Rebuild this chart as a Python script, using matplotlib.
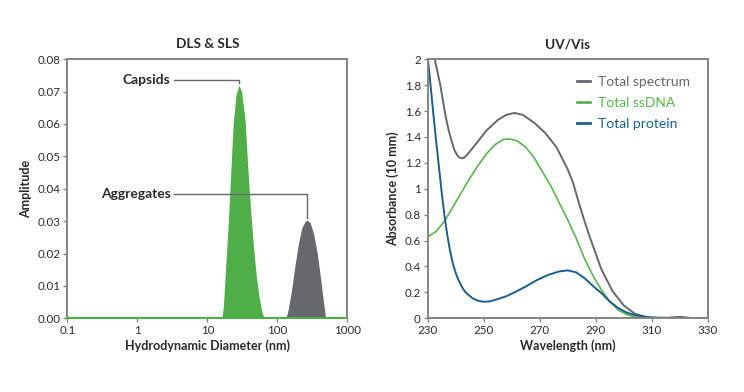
import numpy as np
import matplotlib
matplotlib.use("Agg")
import matplotlib.pyplot as plt
from matplotlib.ticker import FixedLocator, NullLocator

plt.rcParams['font.family'] = ['Lato', 'DejaVu Sans']

# DLS & SLS: size distributions (diameter in nm, amplitude)
capsid_d = [16.2, 17.0, 18.2, 20.0, 21.4, 23.4, 25.7, 28.2, 30.9, 34.7,
            38.0, 41.7, 45.7, 50.1, 55.0, 60.3, 64.6]
capsid_amp = [0.0, 0.004, 0.015, 0.030, 0.043, 0.060, 0.069, 0.072, 0.070, 0.061,
              0.046, 0.033, 0.022, 0.013, 0.0065, 0.002, 0.0]
agg_d = [132, 141, 158, 178, 200, 224, 251, 269, 295, 331, 372, 417, 457, 490]
agg_amp = [0.0, 0.002, 0.008, 0.016, 0.023, 0.028, 0.030, 0.0303, 0.0295, 0.026,
           0.020, 0.012, 0.005, 0.0]

# UV/Vis spectra
wl_total = [230, 232.5, 234.5, 235.5, 236.5, 237.5, 238.5, 239.5, 240.5, 241.2, 242, 243,
            244, 247, 251, 255, 258, 261, 264, 268, 272, 276, 280, 282, 284, 286, 288, 292,
            296, 300, 304, 308, 312, 316, 320, 323, 326, 330]
abs_total = [2.30, 2.00, 1.80, 1.67, 1.55, 1.45, 1.37, 1.30, 1.26, 1.243, 1.235, 1.24,
             1.26, 1.34, 1.45, 1.53, 1.57, 1.585, 1.57, 1.51, 1.43, 1.32, 1.15, 1.04, 0.89,
             0.75, 0.62, 0.38, 0.21, 0.10, 0.035, 0.01, 0.003, 0.005, 0.012, 0.005, -0.005,
             0.005]
wl_dna = [230, 233, 236, 239, 242, 245, 248, 251, 254, 257, 259, 262, 265, 268, 271, 274,
          277, 280, 283, 286, 289, 292, 295, 298, 301, 304, 308, 330]
abs_dna = [0.63, 0.67, 0.75, 0.86, 0.97, 1.08, 1.18, 1.27, 1.34, 1.38, 1.385, 1.37, 1.32,
           1.24, 1.13, 1.02, 0.89, 0.76, 0.62, 0.46, 0.33, 0.22, 0.13, 0.065, 0.03, 0.01,
           0.0, 0.0]
wl_prot = [230, 231, 232, 233, 234, 235, 236, 237, 238, 239, 240, 241, 242, 243, 244, 246,
           248, 250, 252, 255, 258, 261, 265, 269, 273, 277, 280, 283, 286, 289, 292, 295,
           298, 301, 304, 307, 310, 315, 320, 330]
abs_prot = [2.02, 1.80, 1.58, 1.37, 1.17, 0.97, 0.79, 0.64, 0.52, 0.42, 0.35, 0.295, 0.25,
            0.215, 0.19, 0.155, 0.135, 0.128, 0.13, 0.148, 0.17, 0.20, 0.245, 0.295, 0.335,
            0.362, 0.37, 0.355, 0.31, 0.25, 0.195, 0.13, 0.08, 0.045, 0.025, 0.013, 0.006,
            0.003, 0.0, 0.0]

green = '#4fae48'
gray = '#67686b'
blue = '#1d5f8a'
spine_c = '#858585'
text_c = '#2a2a2a'

fig = plt.figure(figsize=(7.44, 3.92), dpi=100)
ax1 = fig.add_axes([0.0905, 0.188, 0.3763, 0.661])
ax2 = fig.add_axes([0.5749, 0.188, 0.3763, 0.661])

for ax in (ax1, ax2):
    for s in ax.spines.values():
        s.set_color(spine_c)
        s.set_linewidth(1.4)
    ax.tick_params(direction='out', length=3, width=1, color=spine_c,
                   labelsize=8.3, labelcolor=text_c, pad=2)

# left: DLS & SLS
ax1.set_xscale('log')
ax1.plot([0.1, 1000], [0, 0], color=green, lw=1.5, clip_on=False, zorder=3)
ax1.fill_between(capsid_d, capsid_amp, color=green, lw=0, zorder=2)
ax1.fill_between(agg_d, agg_amp, color=gray, lw=0, zorder=2)
ax1.set_xlim(0.1, 1000)
ax1.set_ylim(0, 0.08)
ax1.xaxis.set_major_locator(FixedLocator([0.1, 1, 10, 100, 1000]))
ax1.xaxis.set_minor_locator(NullLocator())
ax1.set_xticklabels(['0.1', '1', '10', '100', '1000'])
ax1.set_yticks(np.arange(0, 0.081, 0.01))
ax1.set_yticklabels(['%.2f' % v for v in np.arange(0, 0.081, 0.01)])
ax1.set_title('DLS & SLS', fontsize=9.8, fontweight='bold', color=text_c, pad=8)
ax1.set_xlabel('Hydrodynamic Diameter (nm)', fontsize=9, fontweight='bold', color=text_c, labelpad=2)
ax1.set_ylabel('Amplitude', fontsize=9, fontweight='bold', color=text_c, labelpad=4)

# leader lines to peaks
cap_i = int(np.argmax(capsid_amp))
agg_i = int(np.argmax(agg_amp))
for label, px, py, ly in [('Capsids', capsid_d[cap_i], capsid_amp[cap_i], 0.0735),
                          ('Aggregates', agg_d[agg_i], agg_amp[agg_i], 0.0383)]:
    ax1.plot([3.3, px, px], [ly, ly, py + 0.0008], color=gray, lw=1, zorder=4)
    ax1.text(3.0, ly, label, ha='right', va='center', fontsize=10,
             fontweight='bold', color=text_c)

# right: UV/Vis
ax2.plot(wl_total, abs_total, color=gray, lw=1.4, label='Total spectrum')
ax2.plot(wl_dna, abs_dna, color='#5cb352', lw=1.2, label='Total ssDNA')
ax2.plot(wl_prot, abs_prot, color=blue, lw=1.4, label='Total protein')
ax2.set_xlim(230, 330)
ax2.set_ylim(0, 2)
ax2.set_xticks(range(230, 331, 20))
yt = [0, 0.2, 0.4, 0.6, 0.8, 1, 1.2, 1.4, 1.6, 1.8, 2]
ax2.set_yticks(yt)
ax2.set_yticklabels(['%g' % v for v in yt])
ax2.set_title('UV/Vis', fontsize=9.8, fontweight='bold', color=text_c, pad=8)
ax2.set_xlabel('Wavelength (nm)', fontsize=9, fontweight='bold', color=text_c, labelpad=2)
ax2.set_ylabel('Absorbance (10 mm)', fontsize=9, fontweight='bold', color=text_c, labelpad=4)
leg = ax2.legend(loc='upper left', bbox_to_anchor=(0.49, 0.985), frameon=False,
                 fontsize=10, handlelength=0.9, handletextpad=0.6, labelspacing=0.65,
                 labelcolor='linecolor')
for h in leg.legend_handles:
    h.set_linewidth(2)

fig.savefig('out.png', dpi=100)
